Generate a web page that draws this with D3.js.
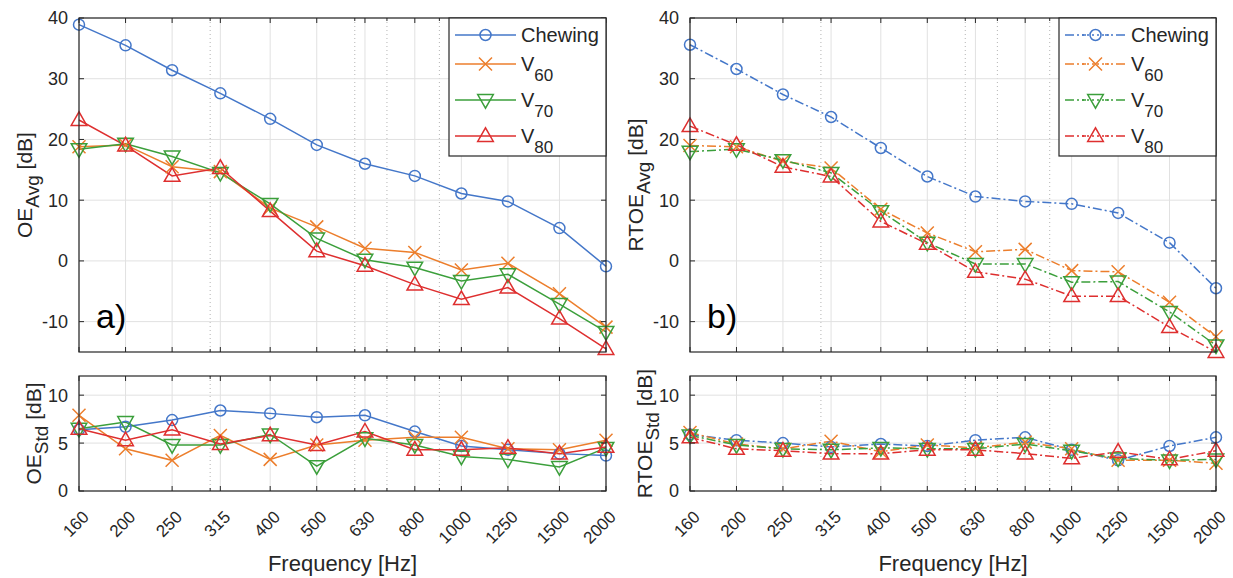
<!DOCTYPE html>
<html>
<head>
<meta charset="utf-8">
<script src="https://cdn.jsdelivr.net/npm/d3@7"></script>
<style>
  body { margin: 0; background: #fff; }
  svg { font-family: "Liberation Sans", Arial, sans-serif; }
</style>
</head>
<body>
<div id="chart"></div>
<script>
// frequency bands (1600 position carries the "1500" label in the original)
const freqs = [160, 200, 250, 315, 400, 500, 630, 800, 1000, 1250, 1600, 2000];
const freqLabels = ["160", "200", "250", "315", "400", "500", "630", "800", "1000", "1250", "1500", "2000"];
const minorFreqs = [300, 600, 700, 900];
const avgTicks = [-10, 0, 10, 20, 30, 40];
const stdTicks = [0, 5, 10];

const seriesNames = ["Chewing", "V", "V", "V"];
const seriesSubs = ["", "60", "70", "80"];

const oeAvgChewing = [38.9, 35.5, 31.4, 27.6, 23.4, 19.1, 16.0, 14.0, 11.1, 9.8, 5.4, -0.9];
const oeAvgV60 = [18.8, 19.1, 15.5, 14.7, 8.7, 5.6, 2.1, 1.4, -1.5, -0.4, -5.4, -10.9];
const oeAvgV70 = [18.4, 19.3, 17.2, 14.5, 9.4, 3.7, 0.2, -1.1, -3.3, -2.2, -7.1, -11.7];
const oeAvgV80 = [23.2, 19.0, 14.0, 15.3, 8.2, 1.6, -0.8, -3.9, -6.3, -4.4, -9.5, -14.5];

const rtoeAvgChewing = [35.6, 31.6, 27.4, 23.7, 18.6, 13.9, 10.6, 9.8, 9.4, 7.9, 3.0, -4.5];
const rtoeAvgV60 = [19.0, 18.8, 16.4, 15.3, 8.5, 4.6, 1.5, 1.9, -1.6, -1.8, -6.8, -12.5];
const rtoeAvgV70 = [18.0, 18.4, 16.6, 14.5, 8.2, 3.0, -0.5, -0.5, -3.5, -3.4, -8.4, -13.9];
const rtoeAvgV80 = [22.2, 19.1, 15.5, 13.9, 6.5, 2.8, -1.8, -3.0, -5.8, -5.8, -10.9, -15.0];

const oeStdChewing = [6.4, 6.7, 7.4, 8.4, 8.1, 7.7, 7.9, 6.2, 4.7, 4.3, 3.9, 3.7];
const oeStdV60 = [7.9, 4.4, 3.2, 5.8, 3.3, 4.8, 5.3, 5.6, 5.6, 4.4, 4.3, 5.3];
const oeStdV70 = [6.5, 7.2, 4.8, 4.8, 5.9, 2.6, 5.5, 4.8, 3.6, 3.3, 2.5, 4.5];
const oeStdV80 = [6.5, 5.3, 6.4, 4.9, 5.8, 4.8, 6.2, 4.3, 4.3, 4.5, 3.9, 4.6];

const rtoeStdChewing = [5.9, 5.3, 5.0, 4.6, 4.9, 4.7, 5.3, 5.6, 4.3, 3.2, 4.7, 5.6];
const rtoeStdV60 = [6.1, 4.9, 4.4, 5.2, 4.1, 4.8, 4.5, 5.1, 4.4, 3.2, 3.2, 2.9];
const rtoeStdV70 = [5.8, 4.8, 4.4, 4.3, 4.5, 4.4, 4.4, 4.9, 4.2, 3.4, 3.2, 3.3];
const rtoeStdV80 = [5.6, 4.4, 4.2, 3.9, 3.9, 4.3, 4.3, 3.9, 3.4, 4.1, 3.3, 4.2];

const colors = ["#4477c9", "#ec7e2c", "#3b9f3b", "#de2f2f"];
const markerTypes = ["circle", "x", "down", "up"];

const width = 1233, height = 578;
const svg = d3.select("#chart").append("svg")
  .attr("width", width)
  .attr("height", height);

function drawMarker(g, type, x, y, color) {
  if (type == "circle") {
    g.append("circle").attr("cx", x).attr("cy", y).attr("r", 5.5)
      .attr("fill", "none").attr("stroke", color).attr("stroke-width", 1.5);
  } else if (type == "x") {
    let s = 6.5;
    g.append("path")
      .attr("d", `M${x - s},${y - s}L${x + s},${y + s}M${x - s},${y + s}L${x + s},${y - s}`)
      .attr("stroke", color).attr("stroke-width", 1.5);
  } else {
    let w = 7.8, h = 6.8;
    let sign = type == "down" ? 1 : -1;
    let pts = [[x - w, y - sign * h * 0.8], [x + w, y - sign * h * 0.8], [x, y + sign * h * 1.2]];
    g.append("path")
      .attr("d", "M" + pts.join("L") + "Z")
      .attr("fill", "none").attr("stroke", color).attr("stroke-width", 1.5)
      .attr("stroke-linejoin", "miter");
  }
}

function renderPanel(p) {
  let x = d3.scaleLog().domain([160, 2000]).range([p.left, p.right]);
  let y = d3.scaleLinear().domain(p.yDomain).range([p.bottom, p.top]);
  let g = svg.append("g");

  // grid
  g.selectAll(".vminor").data(minorFreqs).enter().append("line")
    .attr("x1", d => x(d)).attr("x2", d => x(d))
    .attr("y1", p.top).attr("y2", p.bottom)
    .attr("stroke", "#b4b4b4").attr("stroke-dasharray", "1,3");
  g.selectAll(".vmajor").data(freqs).enter().append("line")
    .attr("x1", d => x(d)).attr("x2", d => x(d))
    .attr("y1", p.top).attr("y2", p.bottom)
    .attr("stroke", "#e1e1e1");
  g.selectAll(".hmajor").data(p.yTicks).enter().append("line")
    .attr("x1", p.left).attr("x2", p.right)
    .attr("y1", d => y(d)).attr("y2", d => y(d))
    .attr("stroke", "#e1e1e1");

  // series
  let line = d3.line().x((d, i) => x(freqs[i])).y(d => y(d));
  p.series.forEach(function(vals, k) {
    g.append("path").datum(vals)
      .attr("d", line)
      .attr("fill", "none")
      .attr("stroke", colors[k])
      .attr("stroke-width", 1.5)
      .attr("stroke-dasharray", p.dashed ? "9,3,2,3" : null);
  });
  p.series.forEach(function(vals, k) {
    vals.forEach(function(v, i) {
      drawMarker(g, markerTypes[k], x(freqs[i]), y(v), colors[k]);
    });
  });

  // axes box and inner ticks
  let ax = g.append("g").attr("stroke", "#262626");
  ax.append("rect")
    .attr("x", p.left).attr("y", p.top)
    .attr("width", p.right - p.left).attr("height", p.bottom - p.top)
    .attr("fill", "none").attr("stroke-width", 1.2);
  freqs.forEach(function(f) {
    ax.append("line").attr("x1", x(f)).attr("x2", x(f)).attr("y1", p.top).attr("y2", p.top + 5);
    ax.append("line").attr("x1", x(f)).attr("x2", x(f)).attr("y1", p.bottom).attr("y2", p.bottom - 5);
  });
  minorFreqs.forEach(function(f) {
    ax.append("line").attr("x1", x(f)).attr("x2", x(f)).attr("y1", p.top).attr("y2", p.top + 3);
    ax.append("line").attr("x1", x(f)).attr("x2", x(f)).attr("y1", p.bottom).attr("y2", p.bottom - 3);
  });
  p.yTicks.forEach(function(t) {
    ax.append("line").attr("x1", p.left).attr("x2", p.left + 5).attr("y1", y(t)).attr("y2", y(t));
    ax.append("line").attr("x1", p.right).attr("x2", p.right - 5).attr("y1", y(t)).attr("y2", y(t));
  });

  // y tick labels
  g.selectAll(".ylab").data(p.yTicks).enter().append("text")
    .attr("x", p.left - 11).attr("y", d => y(d))
    .attr("dy", "0.36em")
    .attr("text-anchor", "end")
    .attr("font-size", 18)
    .attr("fill", "#262626")
    .text(d => d);

  // y axis label with subscript
  let yl = g.append("text")
    .attr("transform", `translate(${p.left - p.labelGap},${(p.top + p.bottom) / 2}) rotate(-90)`)
    .attr("text-anchor", "middle")
    .attr("font-size", 21)
    .attr("fill", "#262626");
  yl.append("tspan").text(p.label);
  yl.append("tspan").attr("dy", 7).attr("font-size", 19).text(p.sub);
  yl.append("tspan").attr("dy", -7).text("\u00a0[dB]");

  // x tick labels and x label for the bottom panels
  if (p.showX) {
    freqs.forEach(function(f, i) {
      g.append("text")
        .attr("transform", `translate(${x(f) + 11},${p.bottom + 27}) rotate(-45)`)
        .attr("text-anchor", "end")
        .attr("font-size", 17)
        .attr("fill", "#262626")
        .text(freqLabels[i]);
    });
    g.append("text")
      .attr("x", (p.left + p.right) / 2).attr("y", p.bottom + 80)
      .attr("text-anchor", "middle")
      .attr("font-size", 22)
      .attr("fill", "#262626")
      .text("Frequency [Hz]");
  }

  if (p.letter) {
    g.append("text")
      .attr("x", p.left + 17).attr("y", p.bottom - 24)
      .attr("font-size", 34)
      .attr("fill", "#000")
      .text(p.letter);
  }

  if (p.legend) {
    let bx = p.right - 157, by = p.top;
    let lg = g.append("g");
    lg.append("rect")
      .attr("x", bx).attr("y", by).attr("width", 157).attr("height", 138)
      .attr("fill", "#fff").attr("stroke", "#262626").attr("stroke-width", 1.2);
    let rows = [17, 46, 82, 118];
    seriesNames.forEach(function(name, k) {
      let ry = by + rows[k];
      lg.append("line")
        .attr("x1", bx + 6).attr("x2", bx + 67)
        .attr("y1", ry).attr("y2", ry)
        .attr("stroke", colors[k]).attr("stroke-width", 1.5)
        .attr("stroke-dasharray", p.dashed ? "9,3,2,3" : null);
      if (p.dashed) {
        lg.append("rect").attr("x", bx + 27).attr("y", ry - 9).attr("width", 19).attr("height", 18).attr("fill", "#fff");
        lg.append("line").attr("x1", bx + 23).attr("x2", bx + 50).attr("y1", ry).attr("y2", ry)
          .attr("stroke", colors[k]).attr("stroke-width", 1.5).attr("stroke-dasharray", "2,3");
      }
      drawMarker(lg, markerTypes[k], bx + 36.5, ry, colors[k]);
      let t = lg.append("text")
        .attr("x", bx + 72).attr("y", ry + 7)
        .attr("font-size", 20)
        .attr("fill", "#262626");
      t.append("tspan").text(name);
      if (seriesSubs[k]) t.append("tspan").attr("dy", 10).attr("font-size", 17).text(seriesSubs[k]);
    });
  }
}

renderPanel({
  left: 79, right: 606, top: 18, bottom: 352,
  yDomain: [-15, 40], yTicks: avgTicks,
  series: [oeAvgChewing, oeAvgV60, oeAvgV70, oeAvgV80],
  dashed: false, label: "OE", sub: "Avg", labelGap: 47,
  letter: "a)", legend: true, showX: false
});
renderPanel({
  left: 690, right: 1216, top: 18, bottom: 352,
  yDomain: [-15, 40], yTicks: avgTicks,
  series: [rtoeAvgChewing, rtoeAvgV60, rtoeAvgV70, rtoeAvgV80],
  dashed: true, label: "RTOE", sub: "Avg", labelGap: 47,
  letter: "b)", legend: true, showX: false
});
renderPanel({
  left: 79, right: 606, top: 376, bottom: 491,
  yDomain: [0, 12], yTicks: stdTicks,
  series: [oeStdChewing, oeStdV60, oeStdV70, oeStdV80],
  dashed: false, label: "OE", sub: "Std", labelGap: 38,
  letter: null, legend: false, showX: true
});
renderPanel({
  left: 690, right: 1216, top: 376, bottom: 491,
  yDomain: [0, 12], yTicks: stdTicks,
  series: [rtoeStdChewing, rtoeStdV60, rtoeStdV70, rtoeStdV80],
  dashed: true, label: "RTOE", sub: "Std", labelGap: 38,
  letter: null, legend: false, showX: true
});
</script>
</body>
</html>
